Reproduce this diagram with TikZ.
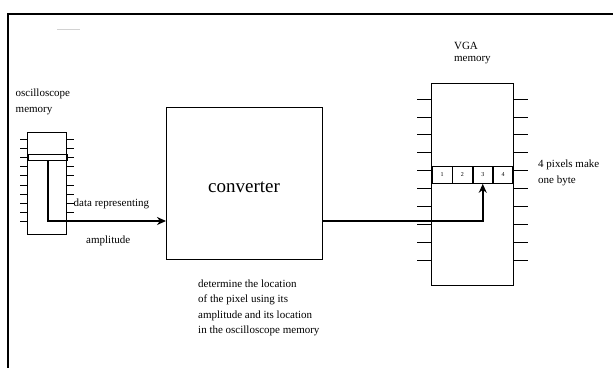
\documentclass[tikz,border=0pt]{standalone}
\usepackage{fontspec}
\setmainfont{Liberation Serif}
\usetikzlibrary{arrows.meta, positioning}

\begin{document}
\begin{tikzpicture}[x=1pt, y=-1pt, >={Stealth[length=9pt,width=8pt]},
  chip/.style={rectangle, draw, line width=0.8pt, inner sep=0pt, anchor=north west},
  cell/.style={rectangle, draw, line width=0.8pt, inner sep=0pt, minimum width=19.5pt, minimum height=17pt, font=\fontsize{6}{7}\selectfont},
  lbl/.style={inner sep=0pt, align=left, font=\fontsize{11}{15.5}\selectfont},
  bus/.style={->, line width=1.6pt}]
  \useasboundingbox (0,0) rectangle (613,367);
  % frame
  \draw[line width=1.6pt] (620,14) -- (8,14) -- (8,375);
  \draw[gray!35, line width=0.8pt] (57,29) -- (80,29);

  % oscilloscope memory
  \node[chip, minimum width=39pt, minimum height=102pt] (osc) at (27,132) {};
  \node[chip, minimum width=39pt, minimum height=6pt] (oscrow) at (28,154) {};
  \foreach \i in {0,...,9} {
    \draw[line width=0.8pt] (osc.west |- 0,139+9.2*\i) -- ++(-7,0);
    \draw[line width=0.8pt] (osc.east |- 0,139+9.2*\i) -- ++(7,0);
  }
  \node[lbl, font=\fontsize{11}{16}\selectfont, above=16.5pt of osc, xshift=-4pt] (osclbl) {oscilloscope\\memory};

  % converter
  \node[chip, minimum width=156pt, minimum height=152pt] (conv) at (166,107) {};
  \node[inner sep=0pt, anchor=base, font=\fontsize{19}{22}\selectfont] (convlbl) at (244,192) {converter};
  \node[lbl, anchor=north west] (desc) at (198,279.5) {determine the location\\of the pixel using its\\amplitude and its location\\in the oscilloscope memory};

  % VGA memory
  \node[chip, minimum width=82pt, minimum height=202pt] (vga) at (431,83) {};
  \foreach \i in {0,...,9} {
    \draw[line width=0.8pt] (vga.west |- 0,99+17.9*\i) -- ++(-14,0);
    \draw[line width=0.8pt] (vga.east |- 0,99+17.9*\i) -- ++(14,0);
  }
  \node[cell, anchor=north west] (c1) at (432,166) {1};
  \node[cell, right=0pt of c1] (c2) {2};
  \node[cell, right=0pt of c2] (c3) {3};
  \node[cell, right=0pt of c3] (c4) {4};
  \node[lbl, font=\fontsize{11}{12.5}\selectfont, above=18.5pt of vga] (vgalbl) {VGA\\memory};
  \node[lbl, font=\fontsize{11}{16}\selectfont, anchor=north west] (pixlbl) at (538,159.5) {4 pixels make\\one byte};

  % data path
  \coordinate (tap) at (48,160);
  \coordinate (line) at (0,221);
  \draw[bus] (tap) |- (conv.west |- line);
  \draw[bus] (conv.east |- line) -| (c3.south);
  \node[lbl, anchor=base west] (datalbl) at (73.5,206) {data representing};
  \node[lbl, anchor=base west] (amplbl) at (86,243) {amplitude};
\end{tikzpicture}
\end{document}
